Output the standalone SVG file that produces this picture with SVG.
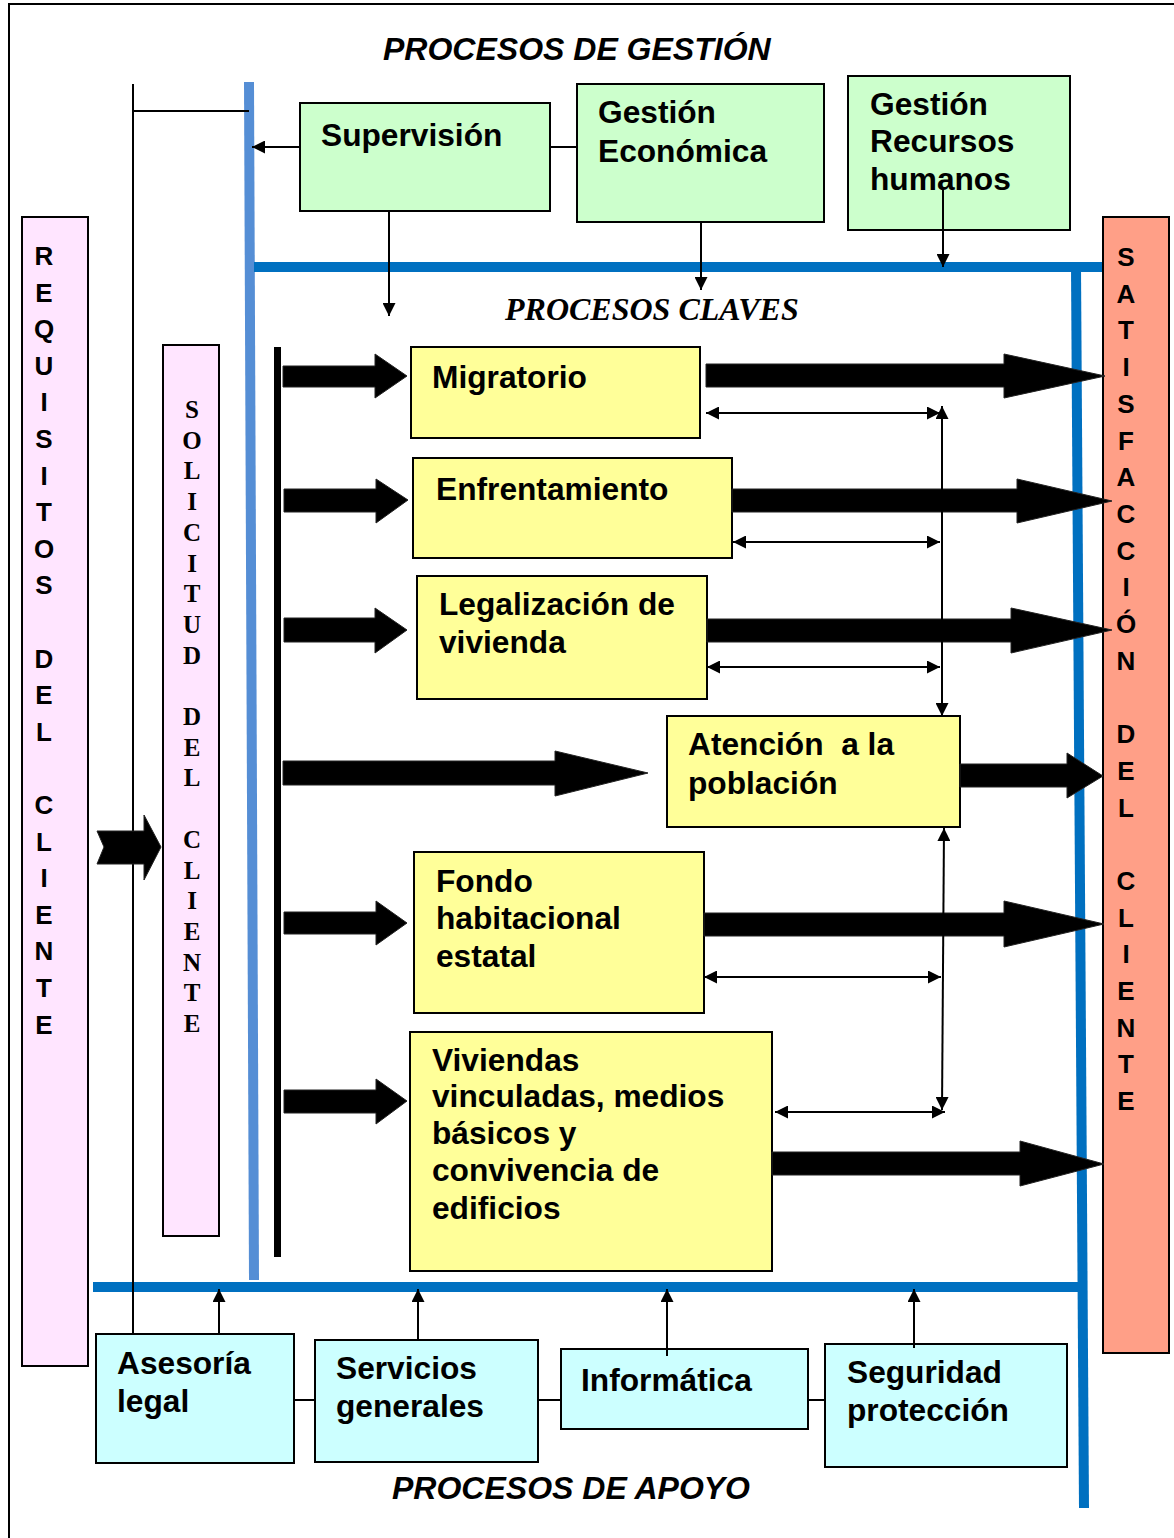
<svg xmlns="http://www.w3.org/2000/svg" width="1174" height="1538" viewBox="0 0 1174 1538">
<defs>
<style>
.frame{fill:none;stroke:#000;stroke-width:2}
.box{stroke:#000;stroke-width:2}
.g{fill:#ccffcc}.y{fill:#ffff99}.c{fill:#ccffff}.p{fill:#ffe5ff}.s{fill:#ff9f87}
.t{font-family:"Liberation Sans",Arial,sans-serif;font-weight:bold;font-size:31.7px;fill:#000}
.title{font-family:"Liberation Sans",Arial,sans-serif;font-weight:bold;font-style:italic;font-size:32px;fill:#000}
.stitle{font-family:"Liberation Serif","Times New Roman",serif;font-weight:bold;font-style:italic;font-size:32px;fill:#000}
.vl{font-family:"Liberation Sans",Arial,sans-serif;font-weight:bold;font-size:26px;fill:#000;text-anchor:middle}
.vs{font-family:"Liberation Serif","Times New Roman",serif;font-weight:bold;font-size:25px;fill:#000;text-anchor:middle}
.ln{stroke:#000;stroke-width:2;fill:none}
.ar{stroke:#000;stroke-width:2;fill:none;marker-end:url(#ah)}
.da{stroke:#000;stroke-width:2;fill:none;marker-start:url(#ah);marker-end:url(#ah)}
.big{fill:#000;stroke:#222;stroke-width:1}
.blue{stroke:#0070c0;stroke-width:10;fill:none}
.lblue{stroke:#558ed5;stroke-width:10;fill:none}
</style>
<marker id="ah" viewBox="0 0 10 10" refX="10" refY="5" markerUnits="userSpaceOnUse" markerWidth="14" markerHeight="13" orient="auto-start-reverse">
<path d="M0,0 L10,5 L0,10 z" fill="#000"/>
</marker>
</defs>
<rect x="0" y="0" width="1174" height="1538" fill="#fff"/>
<path class="frame" d="M1174,4 H9 V1538"/>

<text class="title" x="383" y="60">PROCESOS DE GESTIÓN</text>
<text class="stitle" x="505" y="320">PROCESOS CLAVES</text>
<text class="title" x="392" y="1499">PROCESOS DE APOYO</text>

<g id="frame-lines">
<path class="lblue" d="M249,82 L254,1280"/>
<path class="blue" d="M254,267 H1103"/>
<path class="blue" d="M1076,267 L1084,1508"/>
<path class="blue" d="M93,1287 H1082"/>
<rect x="274" y="347" width="7" height="910" fill="#000"/>
</g>

<g id="requisitos">
<rect class="box p" x="22" y="217" width="66" height="1149"/>
<text class="vl"><tspan x="44" y="265">R</tspan><tspan x="44" y="301.6">E</tspan><tspan x="44" y="338.2">Q</tspan><tspan x="44" y="374.8">U</tspan><tspan x="44" y="411.4">I</tspan><tspan x="44" y="448">S</tspan><tspan x="44" y="484.6">I</tspan><tspan x="44" y="521.2">T</tspan><tspan x="44" y="557.8">O</tspan><tspan x="44" y="594.4">S</tspan><tspan x="44" y="667.6">D</tspan><tspan x="44" y="704.2">E</tspan><tspan x="44" y="740.8">L</tspan><tspan x="44" y="814">C</tspan><tspan x="44" y="850.6">L</tspan><tspan x="44" y="887.2">I</tspan><tspan x="44" y="923.8">E</tspan><tspan x="44" y="960.4">N</tspan><tspan x="44" y="997">T</tspan><tspan x="44" y="1033.6">E</tspan></text>
</g>

<g id="solicitud">
<rect class="box p" x="163" y="345" width="56" height="891"/>
<text class="vs"><tspan x="192" y="418">S</tspan><tspan x="192" y="448.7">O</tspan><tspan x="192" y="479.4">L</tspan><tspan x="192" y="510.1">I</tspan><tspan x="192" y="540.8">C</tspan><tspan x="192" y="571.5">I</tspan><tspan x="192" y="602.2">T</tspan><tspan x="192" y="632.9">U</tspan><tspan x="192" y="663.6">D</tspan><tspan x="192" y="725">D</tspan><tspan x="192" y="755.7">E</tspan><tspan x="192" y="786.4">L</tspan><tspan x="192" y="847.8">C</tspan><tspan x="192" y="878.5">L</tspan><tspan x="192" y="909.2">I</tspan><tspan x="192" y="939.9">E</tspan><tspan x="192" y="970.6">N</tspan><tspan x="192" y="1001.3">T</tspan><tspan x="192" y="1032">E</tspan></text>
</g>

<g id="satisfaccion">
<rect class="box s" x="1103" y="217" width="66" height="1136"/>
<text class="vl"><tspan x="1126" y="266">S</tspan><tspan x="1126" y="302.7">A</tspan><tspan x="1126" y="339.4">T</tspan><tspan x="1126" y="376.1">I</tspan><tspan x="1126" y="412.8">S</tspan><tspan x="1126" y="449.5">F</tspan><tspan x="1126" y="486.2">A</tspan><tspan x="1126" y="522.9">C</tspan><tspan x="1126" y="559.6">C</tspan><tspan x="1126" y="596.3">I</tspan><tspan x="1126" y="633">Ó</tspan><tspan x="1126" y="669.7">N</tspan><tspan x="1126" y="743.1">D</tspan><tspan x="1126" y="779.8">E</tspan><tspan x="1126" y="816.5">L</tspan><tspan x="1126" y="889.9">C</tspan><tspan x="1126" y="926.6">L</tspan><tspan x="1126" y="963.3">I</tspan><tspan x="1126" y="1000">E</tspan><tspan x="1126" y="1036.7">N</tspan><tspan x="1126" y="1073.4">T</tspan><tspan x="1126" y="1110.1">E</tspan></text>
</g>

<g id="supervision">
<rect class="box g" x="300" y="103" width="250" height="108"/>
<text class="t" x="321" y="146">Supervisión</text>
</g>
<g id="gestion-economica">
<rect class="box g" x="577" y="84" width="247" height="138"/>
<text class="t" x="598" y="123">Gestión</text>
<text class="t" x="598" y="162">Económica</text>
</g>
<g id="gestion-rrhh">
<rect class="box g" x="848" y="76" width="222" height="154"/>
<text class="t" x="870" y="115">Gestión</text>
<text class="t" x="870" y="152">Recursos</text>
<text class="t" x="870" y="190">humanos</text>
</g>

<g id="migratorio">
<rect class="box y" x="411" y="347" width="289" height="91"/>
<text class="t" x="432" y="388">Migratorio</text>
</g>
<g id="enfrentamiento">
<rect class="box y" x="413" y="458" width="319" height="100"/>
<text class="t" x="436" y="500">Enfrentamiento</text>
</g>
<g id="legalizacion">
<rect class="box y" x="417" y="576" width="290" height="123"/>
<text class="t" x="439" y="615">Legalización de</text>
<text class="t" x="439" y="653">vivienda</text>
</g>
<g id="atencion">
<rect class="box y" x="667" y="716" width="293" height="111"/>
<text class="t" x="688" y="755" xml:space="preserve">Atención  a la</text>
<text class="t" x="688" y="794">población</text>
</g>
<g id="fondo">
<rect class="box y" x="414" y="852" width="290" height="161"/>
<text class="t" x="436" y="892">Fondo</text>
<text class="t" x="436" y="929">habitacional</text>
<text class="t" x="436" y="967">estatal</text>
</g>
<g id="viviendas">
<rect class="box y" x="410" y="1032" width="362" height="239"/>
<text class="t" x="432" y="1071">Viviendas</text>
<text class="t" x="432" y="1107">vinculadas, medios</text>
<text class="t" x="432" y="1144">básicos y</text>
<text class="t" x="432" y="1181">convivencia de</text>
<text class="t" x="432" y="1219">edificios</text>
</g>

<g id="asesoria">
<rect class="box c" x="96" y="1334" width="198" height="129"/>
<text class="t" x="117" y="1374">Asesoría</text>
<text class="t" x="117" y="1412">legal</text>
</g>
<g id="servicios">
<rect class="box c" x="315" y="1340" width="223" height="122"/>
<text class="t" x="336" y="1379">Servicios</text>
<text class="t" x="336" y="1417">generales</text>
</g>
<g id="informatica">
<rect class="box c" x="561" y="1349" width="247" height="80"/>
<text class="t" x="581" y="1391">Informática</text>
</g>
<g id="seguridad">
<rect class="box c" x="825" y="1344" width="242" height="123"/>
<text class="t" x="847" y="1383">Seguridad</text>
<text class="t" x="847" y="1421">protección</text>
</g>

<g id="connectors">
<path class="ln" d="M133,84 V1334 M133,111 H249"/>
<path class="ar" d="M300,147 H252"/>
<path class="ln" d="M550,147 H577"/>
<path class="ar" d="M389,211 V316"/>
<path class="ar" d="M701,223 V290"/>
<path class="ar" d="M943,190 V267"/>

<polygon class="big" points="97,831 144,831 144,815 161,847 144,880 144,864 97,864 104,847"/>

<polygon class="big" points="283,366 375,366 375,354 407,376 375,398 375,387 283,387"/>
<polygon class="big" points="284,489 376,489 376,479 408,500 376,523 376,512 284,512"/>
<polygon class="big" points="284,618 375,618 375,608 407,630 375,653 375,642 284,642"/>
<polygon class="big" points="283,761 555,761 555,751 648,773 555,796 555,785 283,785"/>
<polygon class="big" points="284,912 376,912 376,901 407,923 376,945 376,934 284,934"/>
<polygon class="big" points="284,1090 376,1090 376,1079 407,1101 376,1124 376,1113 284,1113"/>

<polygon class="big" points="706,364 1004,364 1004,354 1105,376 1004,398 1004,387 706,387"/>
<polygon class="big" points="732,489 1017,489 1017,479 1112,501 1017,523 1017,512 732,512"/>
<polygon class="big" points="707,619 1011,619 1011,608 1112,630 1011,653 1011,642 707,642"/>
<polygon class="big" points="960,764 1067,764 1067,753 1103,776 1067,798 1067,787 960,787"/>
<polygon class="big" points="704,913 1004,913 1004,901 1104,924 1004,947 1004,936 704,936"/>
<polygon class="big" points="772,1152 1020,1152 1020,1141 1104,1164 1020,1186 1020,1175 772,1175"/>

<path class="da" d="M706,413 H940"/>
<path class="da" d="M733,542 H940"/>
<path class="da" d="M707,667 H940"/>
<path class="da" d="M942,406 V716"/>
<path class="da" d="M944,828 L942,1110"/>
<path class="da" d="M704,977 H941"/>
<path class="da" d="M775,1112 H945"/>

<path class="ar" d="M219,1334 V1289"/>
<path class="ar" d="M418,1340 V1289"/>
<path class="ar" d="M667,1356 V1289"/>
<path class="ar" d="M914,1348 V1289"/>
<path class="ln" d="M294,1400 H315 M538,1400 H561 M808,1400 H825"/>
</g>
</svg>
